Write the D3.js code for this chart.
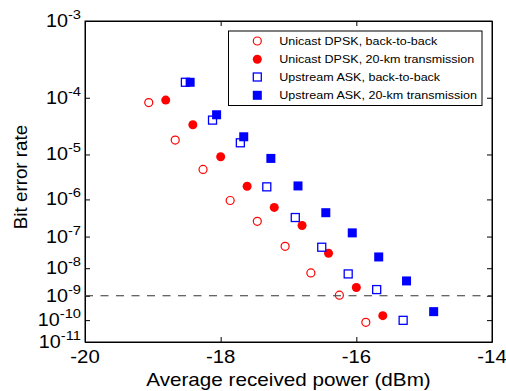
<!DOCTYPE html>
<html><head><meta charset="utf-8">
<script src="https://cdn.jsdelivr.net/npm/d3@7"></script>
<style>body{margin:0;background:#fff}svg text{font-family:Arial,"Liberation Sans",sans-serif;fill:#000}</style>
</head><body><svg id="c" width="506" height="391"></svg>
<script>
// ---- data ----
const xTicks = [-20, -18, -16, -14];
const berTickExp = [-3, -4, -5, -6, -7, -8, -9, -10, -11];
const seriesNames = ["Unicast DPSK, back-to-back", "Unicast DPSK, 20-km transmission",
  "Upstream ASK, back-to-back", "Upstream ASK, 20-km transmission"];
const dpskB2B_x   = [-19.06, -18.67, -18.26, -17.86, -17.46, -17.05, -16.67, -16.25, -15.86];
const dpskB2B_ber = [8.4e-5, 1.9e-5, 4.9e-6, 9.4e-7, 2.7e-7, 5.1e-8, 6.9e-9, 1.05e-9, 8.0e-11];
const dpsk20_x    = [-18.81, -18.41, -18.00, -17.61, -17.21, -16.80, -16.41, -16.00, -15.61];
const dpsk20_ber  = [9.2e-5, 3.6e-5, 9.0e-6, 2.07e-6, 6.3e-7, 2.07e-7, 3.1e-8, 2.05e-9, 1.56e-10];
const askB2B_x    = [-18.52, -18.12, -17.71, -17.32, -16.90, -16.51, -16.12, -15.70, -15.31];
const askB2B_ber  = [1.7e-4, 4.33e-5, 1.69e-5, 2.0e-6, 3.42e-7, 4.78e-8, 6.36e-9, 1.72e-9, 9.8e-11];
const ask20_x     = [-18.45, -18.06, -17.66, -17.26, -16.86, -16.45, -16.06, -15.67, -15.26, -14.86];
const ask20_ber   = [1.7e-4, 5.33e-5, 2.19e-5, 8.33e-6, 2.1e-6, 4.59e-7, 1.28e-7, 2.36e-8, 3.58e-9, 2.3e-10];
const thresholdBer = 1e-9;

// ---- BER -> Q transform (inverse normal, Acklam) ----
function normInvLow(p){
  const c=[-7.784894002430293e-03,-3.223964580411365e-01,-2.400758277161838e+00,-2.549732539343734e+00,4.374664141464968e+00,2.938163982698783e+00];
  const d=[7.784695709041462e-03,3.224671290700398e-01,2.445134137142996e+00,3.754408661907416e+00];
  const q=Math.sqrt(-2*Math.log(p));
  return (((((c[0]*q+c[1])*q+c[2])*q+c[3])*q+c[4])*q+c[5])/((((d[0]*q+d[1])*q+d[2])*q+d[3])*q+1);
}
const qOf = ber => -normInvLow(ber);

const W=506,H=391, L=85, R=492, T=21, B=342, SX=1.13;
const svg=d3.select("#c");
const x=d3.scaleLinear().domain([-20,-14]).range([L,R]);
const y=d3.scaleLog().domain([qOf(1e-3), qOf(1e-11)]).range([T,B]);
const berTicks = berTickExp.map(e=>Math.pow(10,e));

// frame
svg.append("rect").attr("x",L).attr("y",T).attr("width",R-L).attr("height",B-T)
  .attr("fill","none").attr("stroke","#000").attr("stroke-width",1);

// axes (ticks inward, on all four sides)
const tq = berTicks.map(qOf);
svg.append("g").attr("transform",`translate(${L},0)`).call(d3.axisLeft(y).tickValues(tq).tickFormat("").tickSizeInner(-5).tickSizeOuter(0));
svg.append("g").attr("transform",`translate(${R},0)`).call(d3.axisRight(y).tickValues(tq).tickFormat("").tickSizeInner(-5).tickSizeOuter(0));
svg.append("g").attr("transform",`translate(0,${B})`).call(d3.axisBottom(x).tickValues(xTicks).tickFormat("").tickSizeInner(-5).tickSizeOuter(0));
svg.append("g").attr("transform",`translate(0,${T})`).call(d3.axisTop(x).tickValues(xTicks).tickFormat("").tickSizeInner(-5).tickSizeOuter(0));
svg.selectAll(".domain").attr("stroke","#000");
svg.selectAll(".tick line").attr("stroke","#000");

// y tick labels
berTickExp.forEach((e,i)=>{
  const t=svg.append("text").attr("text-anchor","end").attr("font-size",17.5)
    .attr("transform",`translate(81,${y(tq[i])+6}) scale(${SX},1)`);
  t.append("tspan").text("10");
  t.append("tspan").attr("font-size",13).attr("dy",-8).text(String(e));
});
// x tick labels
xTicks.forEach(v=>{
  svg.append("text").attr("text-anchor","middle").attr("font-size",18)
    .attr("transform",`translate(${x(v)},363) scale(${SX},1)`).text(String(v));
});
// titles
svg.append("text").attr("text-anchor","middle").attr("font-size",18.3)
  .attr("transform",`translate(${(L+R)/2},386) scale(${SX},1)`).text("Average received power (dBm)");
svg.append("text").attr("text-anchor","middle").attr("font-size",18.8)
  .attr("transform",`translate(27,177) rotate(-90)`).text("Bit error rate");

// threshold line
svg.append("line").attr("x1",L).attr("x2",R).attr("y1",y(qOf(thresholdBer))).attr("y2",y(qOf(thresholdBer)))
  .attr("stroke","#333").attr("stroke-width",1).attr("stroke-dasharray","8,7.5");

// markers
function circles(xs,bs,filled){
  svg.append("g").selectAll("circle").data(xs.map((v,i)=>[v,bs[i]])).join("circle")
    .attr("cx",d=>x(d[0])).attr("cy",d=>y(qOf(d[1])))
    .attr("r",filled?4.5:4).attr("fill",filled?"#ff0000":"none")
    .attr("stroke",filled?"none":"#ff0000").attr("stroke-width",1.2);
}
function squares(xs,bs,filled){
  const s=filled?9:8;
  svg.append("g").selectAll("rect").data(xs.map((v,i)=>[v,bs[i]])).join("rect")
    .attr("x",d=>x(d[0])-s/2).attr("y",d=>y(qOf(d[1]))-s/2).attr("width",s).attr("height",s)
    .attr("fill",filled?"#0000ff":"#fff").attr("stroke",filled?"none":"#0000ff").attr("stroke-width",1.3);
}
circles(dpskB2B_x,dpskB2B_ber,false);
circles(dpsk20_x,dpsk20_ber,true);
squares(askB2B_x,askB2B_ber,false);
squares(ask20_x,ask20_ber,true);

// legend
const lg=svg.append("g");
lg.append("rect").attr("x",228.5).attr("y",31).attr("width",253.5).attr("height",74.5)
  .attr("fill","#fff").attr("stroke","#000").attr("stroke-width",1);
const ly=[41,59.3,77,95.3];
seriesNames.forEach((n,i)=>{
  const mx=257.3, my=ly[i];
  if(i<2) lg.append("circle").attr("cx",mx).attr("cy",my).attr("r",i==1?4.5:4)
     .attr("fill",i==1?"#ff0000":"none").attr("stroke",i==1?"none":"#ff0000").attr("stroke-width",1.2);
  else { const s=i==3?9:8; lg.append("rect").attr("x",mx-s/2).attr("y",my-s/2).attr("width",s).attr("height",s)
     .attr("fill",i==3?"#0000ff":"#fff").attr("stroke",i==3?"none":"#0000ff").attr("stroke-width",1.3); }
  lg.append("text").attr("font-size",11.1).attr("transform",`translate(279.3,${my+4}) scale(${SX},1)`).text(n);
});
</script></body></html>
